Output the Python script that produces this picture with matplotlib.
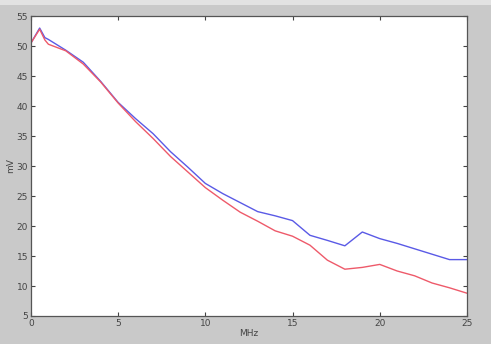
import numpy as np
import matplotlib as mpl
mpl.use('Agg')
import matplotlib.pyplot as plt

freq = [0, 0.5, 0.8, 1, 2, 3, 4, 5, 6, 7, 8, 9, 10, 11, 12, 13, 14, 15,
        16, 17, 18, 19, 20, 21, 22, 23, 24, 25]
blue_mv = [50.5, 53.0, 51.4, 51.1, 49.3, 47.3, 44.1, 40.6, 37.9, 35.4, 32.4,
           29.8, 27.1, 25.4, 23.9, 22.4, 21.7, 20.9, 18.45, 17.6, 16.7, 19.0,
           17.9, 17.1, 16.2, 15.3, 14.4, 14.4]
red_mv = [50.5, 52.8, 51.0, 50.3, 49.2, 47.0, 44.0, 40.5, 37.4, 34.6, 31.6,
          29.0, 26.4, 24.3, 22.3, 20.8, 19.2, 18.3, 16.8, 14.3, 12.8, 13.1,
          13.6, 12.5, 11.7, 10.5, 9.7, 8.8]

xticks = [0, 5, 10, 15, 20, 25]
yticks = [5, 10, 15, 20, 25, 30, 35, 40, 45, 50, 55]

fig = plt.figure(figsize=(4.91, 3.44), dpi=100)
fig.patch.set_facecolor('#c9c9c9')
# lighter strip along the top edge
fig.patches.append(mpl.patches.Rectangle((0, 0.985), 1, 0.015, transform=fig.transFigure,
                                         facecolor='#e2e2e2', edgecolor='none'))
ax = fig.add_axes([0.063, 0.0814, 0.888, 0.872])
ax.set_facecolor('white')

ax.plot(freq, blue_mv, color='#5a5ae6', lw=1.0)
ax.plot(freq, red_mv, color='#ee5a6a', lw=1.0)

ax.set_xlim(0, 25)
ax.set_ylim(5, 55)
ax.set_xticks(xticks)
ax.set_yticks(yticks)
ax.tick_params(direction='in', length=3, width=0.8, labelsize=6.5, colors='#444444',
               top=True, right=True, pad=2)
for s in ax.spines.values():
    s.set_color('#555555')
    s.set_linewidth(0.9)

ax.set_xlabel('MHz', fontsize=6.5, color='#444444', labelpad=1)
ax.set_ylabel('mV', fontsize=6.5, color='#444444', labelpad=1)

fig.savefig('out.png', dpi=100, facecolor=fig.get_facecolor())
